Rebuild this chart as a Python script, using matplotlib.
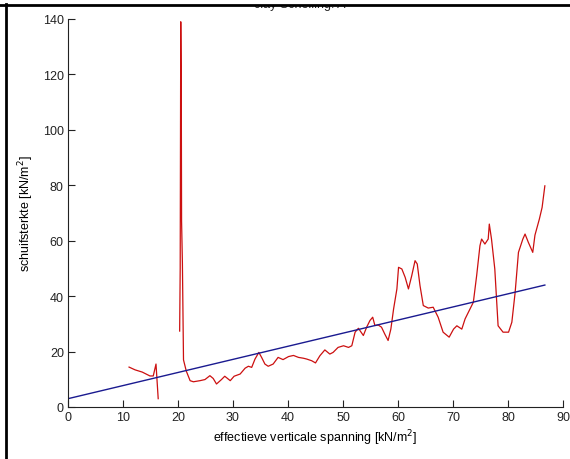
import matplotlib
matplotlib.use("Agg")
import matplotlib.pyplot as plt
import numpy as np
from matplotlib.lines import Line2D
from matplotlib.patches import Rectangle

# gemeten schuifsterkte (rood) tegen effectieve verticale spanning
x_meet = [11.1, 12.2, 13.5, 14.9, 15.5, 16.0, 16.4, np.nan,
          20.3, 20.4, 20.5, 20.6, 20.65, 20.8, 21.0, 21.5, 22.2, 22.8, 24.0, 24.9,
          25.8, 26.4, 27.0, 27.9, 28.5, 29.5, 30.2, 31.3, 32.2, 32.8,
          33.4, 34.0, 34.7, 35.2, 35.8, 36.4, 37.3, 38.2, 39.1, 40.1,
          41.0, 41.9, 42.8, 43.4, 44.3, 45.0, 45.8, 46.7, 47.6, 48.2,
          49.1, 50.1, 51.0, 51.6, 52.2, 52.8, 53.7, 54.3, 54.9, 55.4,
          55.8, 56.4, 57.0, 57.6, 58.2, 58.7, 59.2, 59.8, 60.1, 60.7,
          61.3, 61.9, 62.5, 63.1, 63.5, 64.0, 64.6, 65.5, 66.4, 67.3,
          68.2, 69.3, 70.1, 70.7, 71.6, 72.2, 73.1, 73.7, 74.3, 74.9,
          75.2, 75.8, 76.4, 76.6, 77.0, 77.6, 78.2, 79.1, 80.1, 80.7,
          81.3, 81.9, 82.7, 83.1, 83.7, 84.5, 84.9, 85.7, 86.2, 86.7]
y_meet = [14.4, 13.4, 12.6, 11.2, 11.2, 15.5, 3.0, np.nan,
          27.4, 50.0, 139.0, 114.0, 67.0, 52.0, 17.0, 13.0, 9.5, 9.1, 9.5, 9.9,
          11.3, 10.3, 8.3, 9.9, 11.1, 9.5, 11.1, 11.9, 14.0, 14.7,
          14.3, 17.3, 19.7, 17.9, 15.5, 14.7, 15.5, 17.9, 17.1, 18.2,
          18.6, 17.9, 17.6, 17.3, 16.7, 15.9, 18.5, 20.6, 19.1, 19.7,
          21.5, 22.1, 21.5, 22.1, 27.0, 28.4, 25.8, 28.8, 31.2, 32.4,
          29.4, 29.6, 28.8, 26.3, 24.0, 28.1, 35.4, 42.6, 50.4, 49.8,
          46.8, 42.6, 47.4, 52.8, 51.6, 43.8, 36.6, 35.7, 36.0, 32.4,
          27.0, 25.2, 28.1, 29.3, 28.1, 31.8, 35.4, 37.8, 47.4, 58.2,
          60.6, 58.8, 60.6, 66.0, 60.6, 49.8, 29.3, 27.0, 27.0, 30.6,
          41.4, 55.8, 60.6, 62.4, 59.4, 55.8, 62.0, 67.8, 72.0, 79.8]

# lineaire fit (blauw)
x_fit = [0, 86.7]
y_fit = [3.0, 44.0]

x_ticks = [0, 10, 20, 30, 40, 50, 60, 70, 80, 90]
y_ticks = [0, 20, 40, 60, 80, 100, 120, 140]

plt.rcParams['font.family'] = ['Liberation Sans', 'DejaVu Sans']

fig = plt.figure(figsize=(5.7, 4.6), dpi=100)
ax = fig.add_axes([68/570, 52/460, 495/570, 388/460])

ax.plot(x_meet, y_meet, color='#cc1010', lw=0.9)
ax.plot(x_fit, y_fit, color='#1a1a90', lw=1.0)

ax.set_xlim(0, 90)
ax.set_ylim(0, 140)
ax.set_xticks(x_ticks)
ax.set_yticks(y_ticks)
ax.spines['top'].set_visible(False)
ax.spines['right'].set_visible(False)
for s in ('left', 'bottom'):
    ax.spines[s].set_linewidth(0.8)
    ax.spines[s].set_color('#222222')
ax.tick_params(direction='in', length=5, width=0.8, labelsize=9, colors='#222222', pad=3)

ax.set_xlabel('effectieve verticale spanning [kN/m$^2$]', fontsize=9, labelpad=3)
ax.set_ylabel('schuifsterkte [kN/m$^2$]', fontsize=9, labelpad=5)

# titel, grotendeels buiten beeld
fig.text(300/570, 1 - 5/460, 'clay Schelling: A', ha='center', va='center', fontsize=9, color='#222222')
fig.add_artist(Rectangle((0, 1 - 5/460), 1, 5/460, transform=fig.transFigure, color='white', zorder=5))

# zwarte schermrand links en boven
fig.add_artist(Line2D([0, 1], [1 - 5.5/460, 1 - 5.5/460], transform=fig.transFigure, color='black', lw=2, zorder=6))
fig.add_artist(Line2D([6/570, 6/570], [0, 1 - 5/460], transform=fig.transFigure, color='black', lw=2, zorder=6))

fig.savefig('out.png', dpi=100)
